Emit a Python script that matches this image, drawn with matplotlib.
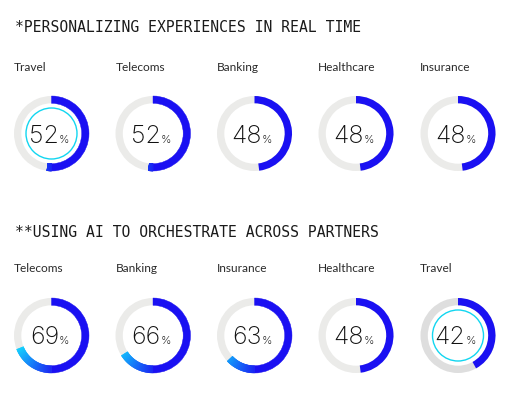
import matplotlib
matplotlib.use("Agg")
import matplotlib.pyplot as plt
from matplotlib.patches import Wedge, Circle
import numpy as np

# Data
titles = ["*PERSONALIZING EXPERIENCES IN REAL TIME", "**USING AI TO ORCHESTRATE ACROSS PARTNERS"]
cats_row1 = ["Travel", "Telecoms", "Banking", "Healthcare", "Insurance"]
vals_row1 = [52, 52, 48, 48, 48]
cats_row2 = ["Telecoms", "Banking", "Insurance", "Healthcare", "Travel"]
vals_row2 = [69, 66, 63, 48, 42]
highlight_row1 = "Travel"
highlight_row2 = "Travel"

W, H = 519, 394
fig = plt.figure(figsize=(W / 100, H / 100), dpi=100)
ax = fig.add_axes([0, 0, 1, 1])
ax.set_xlim(0, W)
ax.set_ylim(0, H)
ax.set_aspect("equal")
ax.axis("off")

BLUE = np.array([0x1a, 0x10, 0xf2]) / 255
CYAN = np.array([0x10, 0xd8, 0xff]) / 255
GRAY = "#ebebe9"
GRAY_HL = "#dedede"

R_OUT = 37.5
RING_W = 7.3
R_IN_HL = 25.5
xs = [51.5, 153, 254.5, 356, 458]
label_x = [14, 115.5, 217, 318, 420]

def Y(ypx):
    return H - ypx

def draw_row(cats, vals, title, title_y, label_y, cy, hl):
    ax.text(15, Y(title_y), title, family="DejaVu Sans Mono", fontsize=10.6,
            color="#1a1a1a", va="center", ha="left")
    for i, (c, v) in enumerate(zip(cats, vals)):
        cx = xs[i]
        ax.text(label_x[i], Y(label_y), c, family="Lato", fontsize=8.6,
                color="#2a2a2a", va="center", ha="left")
        bg = GRAY_HL if (c == hl and title_y > 100) else GRAY
        ax.add_patch(Wedge((cx, Y(cy)), R_OUT, 0, 360, width=RING_W,
                           facecolor=bg, edgecolor="none"))
        f = v / 100.0
        if f <= 0.5:
            ax.add_patch(Wedge((cx, Y(cy)), R_OUT, 90 - 360 * f, 90, width=RING_W,
                               facecolor=BLUE, edgecolor="none"))
        else:
            ax.add_patch(Wedge((cx, Y(cy)), R_OUT, 90 - 360 * 0.5, 90, width=RING_W,
                               facecolor=BLUE, edgecolor=BLUE, lw=0.3))
            n = 80
            steps = np.linspace(0.5, f, n + 1)
            for a, b in zip(steps[:-1], steps[1:]):
                t = np.clip(((a + b) / 2 - 0.48) / 0.22, 0, 1)
                col = BLUE * (1 - t) + CYAN * t
                ax.add_patch(Wedge((cx, Y(cy)), R_OUT, 90 - 360 * b, 90 - 360 * a,
                                   width=RING_W, facecolor=col, edgecolor=col, lw=0.3))
        if c == hl:
            ax.add_patch(Circle((cx, Y(cy)), R_IN_HL, facecolor="none",
                                edgecolor="#12d6f0", lw=1.0))
        ax.text(cx + 7.5, Y(cy + 9), f"{v}", family="Inter", fontweight=200,
                fontsize=18, color="#111111", va="baseline", ha="right")
        ax.text(cx + 7.5, Y(cy + 9), "%", family="Inter", fontweight=300,
                fontsize=8, color="#333333", va="baseline", ha="left")

draw_row(cats_row1, vals_row1, titles[0], 27, 67, 133.5, highlight_row1)
draw_row(cats_row2, vals_row2, titles[1], 232, 269, 335.5, highlight_row2)

fig.savefig("out.png", dpi=100, facecolor="white")
